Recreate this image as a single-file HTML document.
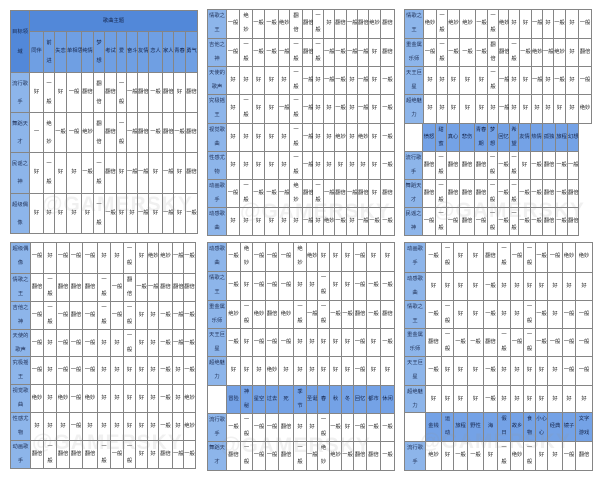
<!DOCTYPE html>
<html><head><meta charset="utf-8">
<style>
html,body{margin:0;padding:0}
body{width:600px;height:478px;background:#fff;position:relative;overflow:hidden;font-family:"Liberation Sans","Noto Sans CJK SC",sans-serif}
.g{position:absolute;display:grid;gap:1px;padding:1px;background:#858585;font-size:5.3px;color:#1c1c1c;line-height:27px}
.g>*{display:block;box-sizing:border-box;text-align:center;white-space:nowrap;font-style:normal;font-weight:normal;text-decoration:none;background:#fff;overflow:visible}
.g>b{background:#8db5ea;color:#1f2f55;line-height:13.5px}
.g>u{background:#74a2e6;color:#14244a}
.g>u.k{background:#5288d9}
.d{line-height:13.5px}
.g1{line-height:39px}
.g1>b{line-height:18px;padding-top:2px}
.g1 .d{line-height:18px;padding-top:2px}
.g1>u{background:#6f9fe3}
.w{position:absolute;font:bold 21px "Liberation Sans",sans-serif;color:rgba(150,150,150,.14);letter-spacing:1px;white-space:nowrap}
</style></head><body>

<!-- Panel 1 -->
<div class="g g1" style="left:10px;top:10px;grid-template-columns:18px 13px 10px 11px 14px 11px 10px 11px 9px 10px 10px 13px 10px 11px 11px;grid-template-rows:20px 40px 39px 39px 40px 39px">
<u class="k" style="grid-row:span 2;line-height:20px;padding-top:11px">目标领<br>域</u>
<u class="k" style="grid-column:span 14;line-height:20px">歌曲主题</u>
<u>同伴</u><u class="d">前<br>进</u><u>失恋</u><u>单相思</u><u>纯情</u><u class="d">梦<br>想</u><u>考试</u><u>爱</u><u>奋斗</u><u>友情</u><u>恋人</u><u>家人</u><u>青春</u><u>勇气</u>
<b>流行歌<br>手</b><i>好</i><i class="d">一<br>般</i><i>好</i><i>一般</i><i>翻倍</i><i class="d">翻<br>倍</i><i>翻倍</i><i class="d">一<br>般</i><i>一般</i><i>翻倍</i><i>一般</i><i>翻倍</i><i>好</i><i>翻倍</i>
<b>舞蹈天<br>才</b><i>一</i><i class="d">绝<br>妙</i><i>一般</i><i>一般</i><i>绝妙</i><i class="d">翻<br>倍</i><i>翻倍</i><i class="d">一<br>般</i><i>一般</i><i>翻倍</i><i>一般</i><i>翻倍</i><i>一般</i><i>翻倍</i>
<b>民谣之<br>神</b><i>好</i><i class="d">一<br>般</i><i>好</i><i>好</i><i>一般</i><i class="d">一<br>般</i><i>翻倍</i><i>好</i><i>一般</i><i>一般</i><i>好</i><i>一般</i><i>好</i><i>翻倍</i>
<b>超级偶<br>像</b><i>好</i><i>好</i><i>好</i><i>好</i><i>好</i><i class="d">一<br>般</i><i>一般</i><i>好</i><i>好</i><i>一般</i><i>好</i><i>一般</i><i>好</i><i>一般</i>
</div>

<!-- Panel 2 -->
<div class="g" style="left:207px;top:9px;grid-template-columns:18px 12px 12px 11px 13px 10px 12px 9px 10px 10px 11px 10px 10px 11px 13px;grid-template-rows:28px 27px 27px 28px 27px 27px 27px 27px">
<b>情歌之<br>王</b><i>一般</i><i class="d">绝<br>妙</i><i>一般</i><i>一般</i><i>绝妙</i><i class="d">翻<br>倍</i><i>翻倍</i><i class="d">一<br>般</i><i>好</i><i>翻倍</i><i>一般</i><i>翻倍</i><i>绝妙</i><i>翻倍</i>
<b>吉他之<br>神</b><i>一般</i><i class="d">一<br>般</i><i>一般</i><i>一般</i><i>一般</i><i class="d">一<br>般</i><i>翻倍</i><i class="d">一<br>般</i><i>一般</i><i>一般</i><i>一般</i><i>一般</i><i>好</i><i>翻倍</i>
<b>天使的<br>歌声</b><i>好</i><i>好</i><i>好</i><i>好</i><i>好</i><i class="d">一<br>般</i><i>一般</i><i>好</i><i>一般</i><i>一般</i><i>好</i><i>一般</i><i>好</i><i>一般</i>
<b>究极摇<br>王</b><i>好</i><i class="d">一<br>般</i><i>好</i><i>好</i><i>一般</i><i class="d">一<br>般</i><i>一般</i><i>好</i><i>好</i><i>一般</i><i>好</i><i>一般</i><i>好</i><i>一般</i>
<b>视觉歌<br>曲</b><i>好</i><i>好</i><i>好</i><i>好</i><i>好</i><i class="d">一<br>般</i><i>一般</i><i>好</i><i>好</i><i>绝妙</i><i>好</i><i>绝妙</i><i>好</i><i>一般</i>
<b>性感尤<br>物</b><i>好</i><i>好</i><i>好</i><i>好</i><i>好</i><i class="d">一<br>般</i><i>一般</i><i>好</i><i>好</i><i>好</i><i>好</i><i>好</i><i>好</i><i>一般</i>
<b>动画歌<br>手</b><i>一般</i><i class="d">一<br>般</i><i>一般</i><i>一般</i><i>一般</i><i class="d">绝<br>妙</i><i>翻倍</i><i class="d">一<br>般</i><i>一般</i><i>翻倍</i><i>一般</i><i>翻倍</i><i>好</i><i>翻倍</i>
<b>动感歌<br>曲</b><i>好</i><i>好</i><i>好</i><i>好</i><i>好</i><i>好</i><i>一般</i><i>好</i><i>绝妙</i><i>一般</i><i>好</i><i>一般</i><i>一般</i><i>一般</i>
</div>

<!-- Panel 3 upper -->
<div class="g" style="left:404px;top:9px;grid-template-columns:18px 12px 10px 11px 15px 11px 10px 9px 10px 11px 10px 10px 11px 12px 12px;grid-template-rows:28px 27px 27px 28px">
<b>情歌之<br>王</b><i>绝妙</i><i class="d">一<br>般</i><i>绝妙</i><i>绝妙</i><i>一般</i><i class="d">一<br>般</i><i>绝妙</i><i>好</i><i>好</i><i>一般</i><i>好</i><i>一般</i><i>好</i><i>一般</i>
<b>重金属<br>乐师</b><i>一般</i><i class="d">一<br>般</i><i>一般</i><i>一般</i><i>一般</i><i class="d">翻<br>倍</i><i>翻倍</i><i class="d">一<br>般</i><i>一般</i><i>绝妙</i><i>一般</i><i>绝妙</i><i>好</i><i>翻倍</i>
<b>天王巨<br>星</b><i>好</i><i>好</i><i>好</i><i>好</i><i>好</i><i class="d">一<br>般</i><i>一般</i><i>好</i><i>好</i><i>一般</i><i>好</i><i>一般</i><i>好</i><i>一般</i>
<b>超绝魅<br>力</b><i>好</i><i>好</i><i>好</i><i>好</i><i>好</i><i>好</i><i>一般</i><i>好</i><i>好</i><i>好</i><i>好</i><i>好</i><i>好</i><i>绝妙</i>
</div>

<!-- Panel 3 lower -->
<div class="g" style="left:404px;top:123px;grid-template-columns:17px 12px 10px 12px 14px 12px 9px 11px 8px 11px 11px 12px 11px 10px;grid-template-rows:27px 27px 27px 27px">
<i></i><u>愤怒</u><u class="d">甜<br>蜜</u><u>真心</u><u>悲伤</u><u class="d">青春<br>期</u><u class="d">梦<br>想</u><u>回忆</u><u class="d">希<br>望</u><u>友情</u><u>热情</u><u>孤独</u><u>旅程</u><u>幻想</u>
<b>流行歌<br>手</b><i>翻倍</i><i class="d">一<br>般</i><i>翻倍</i><i>翻倍</i><i>翻倍</i><i class="d">一<br>般</i><i>一般</i><i class="d">一<br>般</i><i>好</i><i>一般</i><i>翻倍</i><i>一般</i><i>一般</i>
<b>舞蹈天<br>才</b><i>翻倍</i><i class="d">一<br>般</i><i>翻倍</i><i>翻倍</i><i>翻倍</i><i class="d">一<br>般</i><i>一般</i><i class="d">一<br>般</i><i>一般</i><i>一般</i><i>翻倍</i><i>一般</i><i>翻倍</i>
<b>民谣之<br>神</b><i>一般</i><i class="d">一<br>般</i><i>一般</i><i>翻倍</i><i>一般</i><i class="d">一<br>般</i><i>一般</i><i class="d">一<br>般</i><i>一般</i><i>一般</i><i>翻倍</i><i>一般</i><i>翻倍</i>
</div>

<!-- Panel 4 -->
<div class="g" style="left:10px;top:242px;grid-template-columns:19px 12px 12px 12px 12px 14px 12px 12px 11px 11px 10px 13px 10px 11px;grid-template-rows:30px 27px 27px 26px 27px 27px 27px 27px">
<b>超级偶<br>像</b><i>一般</i><i>好</i><i>一般</i><i>一般</i><i>一般</i><i>好</i><i>好</i><i class="d">一<br>般</i><i>好</i><i>绝妙</i><i>绝妙</i><i>一般</i><i>一般</i>
<b>情歌之<br>王</b><i>翻倍</i><i class="d">一<br>般</i><i>翻倍</i><i>翻倍</i><i>翻倍</i><i class="d">一<br>般</i><i>一般</i><i class="d">翻<br>倍</i><i>一般</i><i>一般</i><i>翻倍</i><i>翻倍</i><i>翻倍</i>
<b>吉他之<br>神</b><i>一般</i><i class="d">一<br>般</i><i>一般</i><i>翻倍</i><i>一般</i><i class="d">一<br>般</i><i>一般</i><i class="d">一<br>般</i><i>好</i><i>好</i><i>一般</i><i>一般</i><i>一般</i>
<b>天使的<br>歌声</b><i>一般</i><i>好</i><i>一般</i><i>一般</i><i>一般</i><i>好</i><i>好</i><i class="d">一<br>般</i><i>好</i><i>好</i><i>一般</i><i>一般</i><i>一般</i>
<b>究极摇<br>王</b><i>一般</i><i>好</i><i>一般</i><i>一般</i><i>一般</i><i>好</i><i>好</i><i>好</i><i>好</i><i>好</i><i>一般</i><i>好</i><i>一般</i>
<b>视觉歌<br>曲</b><i>绝妙</i><i>好</i><i>绝妙</i><i>一般</i><i>绝妙</i><i>好</i><i>好</i><i>好</i><i>好</i><i>好</i><i>一般</i><i>好</i><i>绝妙</i>
<b>性感尤<br>物</b><i>好</i><i>好</i><i>好</i><i>一般</i><i>好</i><i>好</i><i>好</i><i>好</i><i>好</i><i>好</i><i>一般</i><i>好</i><i>绝妙</i>
<b>动画歌<br>手</b><i>翻倍</i><i class="d">一<br>般</i><i>翻倍</i><i>翻倍</i><i>翻倍</i><i class="d">一<br>般</i><i>一般</i><i class="d">一<br>般</i><i>好</i><i>好</i><i>翻倍</i><i>一般</i><i>一般</i>
</div>

<!-- Panel 5 -->
<div class="g" style="left:207px;top:242px;grid-template-columns:18px 13px 11px 12px 12px 14px 12px 10px 11px 11px 11px 12px 13px 13px;grid-template-rows:28px 28px 27px 27px 28px 27px 27px 28px">
<b>动感歌<br>曲</b><i>一般</i><i class="d">绝<br>妙</i><i>一般</i><i>一般</i><i>一般</i><i class="d">绝<br>妙</i><i>绝妙</i><i>好</i><i>好</i><i>好</i><i>一般</i><i>好</i><i>好</i>
<b>情歌之<br>王</b><i>一般</i><i>好</i><i>一般</i><i>一般</i><i>一般</i><i>好</i><i>好</i><i class="d">一<br>般</i><i>好</i><i>好</i><i>一般</i><i>一般</i><i>一般</i>
<b>重金属<br>乐师</b><i>绝妙</i><i class="d">一<br>般</i><i>绝妙</i><i>翻倍</i><i>绝妙</i><i class="d">一<br>般</i><i>一般</i><i class="d">一<br>般</i><i>一般</i><i>一般</i><i>翻倍</i><i>一般</i><i>翻倍</i>
<b>天王巨<br>星</b><i>一般</i><i>好</i><i>一般</i><i>一般</i><i>一般</i><i>好</i><i>好</i><i>好</i><i>好</i><i>好</i><i>一般</i><i>好</i><i>一般</i>
<b>超绝魅<br>力</b><i>好</i><i>好</i><i>好</i><i>绝妙</i><i>好</i><i>好</i><i>好</i><i>好</i><i>好</i><i>好</i><i>一般</i><i>好</i><i>好</i>
<i></i><u>冒险</u><u class="d">神<br>秘</u><u>星空</u><u>过去</u><u>死</u><u class="d">季<br>节</u><u>圣诞</u><u>春</u><u>秋</u><u>冬</u><u>回忆</u><u>都市</u><u>休闲</u>
<b>流行歌<br>手</b><i>一般</i><i class="d">一<br>般</i><i>一般</i><i>一般</i><i>翻倍</i><i>好</i><i>好</i><i class="d">一<br>般</i><i>一般</i><i>好</i><i>一般</i><i>一般</i><i>一般</i>
<b>舞蹈天<br>才</b><i>翻倍</i><i class="d">一<br>般</i><i>一般</i><i>一般</i><i>翻倍</i><i class="d">一<br>般</i><i>一般</i><i class="d">绝<br>妙</i><i>绝妙</i><i>一般</i><i>翻倍</i><i>翻倍</i><i>一般</i>
</div>

<!-- Panel 6 -->
<div class="g" style="left:404px;top:242px;grid-template-columns:20px 15px 11px 13px 15px 13px 12px 12px 11px 11px 14px 12px 16px;grid-template-rows:29px 27px 27px 27px 28px 26px 28px 28px">
<b>动画歌<br>手</b><i>一般</i><i class="d">一<br>般</i><i>好</i><i>好</i><i>翻倍</i><i class="d">一<br>般</i><i>一般</i><i class="d">一<br>般</i><i>一般</i><i>一般</i><i>绝妙</i><i>绝妙</i>
<b>动感歌<br>曲</b><i>好</i><i>好</i><i>好</i><i>好</i><i>一般</i><i>好</i><i>好</i><i>好</i><i>好</i><i>好</i><i>好</i><i>好</i>
<b>情歌之<br>王</b><i>一般</i><i class="d">一<br>般</i><i>好</i><i>好</i><i>一般</i><i>好</i><i>好</i><i class="d">一<br>般</i><i>一般</i><i>好</i><i>一般</i><i>一般</i>
<b>重金属<br>乐师</b><i>翻倍</i><i class="d">一<br>般</i><i>一般</i><i>一般</i><i>翻倍</i><i class="d">一<br>般</i><i>一般</i><i class="d">一<br>般</i><i>一般</i><i>一般</i><i>一般</i><i>一般</i>
<b>天王巨<br>星</b><i>一般</i><i>好</i><i>好</i><i>好</i><i>一般</i><i>好</i><i>好</i><i>好</i><i>好</i><i>好</i><i>一般</i><i>一般</i>
<b>超绝魅<br>力</b><i>好</i><i>好</i><i>好</i><i>好</i><i>一般</i><i>好</i><i>好</i><i>好</i><i>好</i><i>好</i><i>好</i><i>好</i>
<i></i><u>金钱</u><u class="d">运<br>动</u><u>旅程</u><u>野性</u><u>海</u><u class="d">假<br>日</u><u>故乡</u><u class="d">食<br>物</u><u class="d">小心<br>心</u><u>经典</u><u>镜子</u><u class="d">文字<br>游戏</u>
<b>流行歌<br>手</b><i>绝妙</i><i>好</i><i>一般</i><i>一般</i><i>好</i><i class="d">一<br>般</i><i>绝妙</i><i class="d">一<br>般</i><i>好</i><i>好</i><i>一般</i><i>翻倍</i>
</div>

<div class="w" style="left:42px;top:193px">@GAMERSKY</div>
<div class="w" style="left:240px;top:200px">@GAMERSKY</div>
<div class="w" style="left:434px;top:199px">@GAMERSKY</div>
<div class="w" style="left:32px;top:431px">@GAMERSKY</div>
<div class="w" style="left:220px;top:434px">@GAMERSKY</div>
<div class="w" style="left:420px;top:430px">@GAMERSKY</div>

</body></html>
